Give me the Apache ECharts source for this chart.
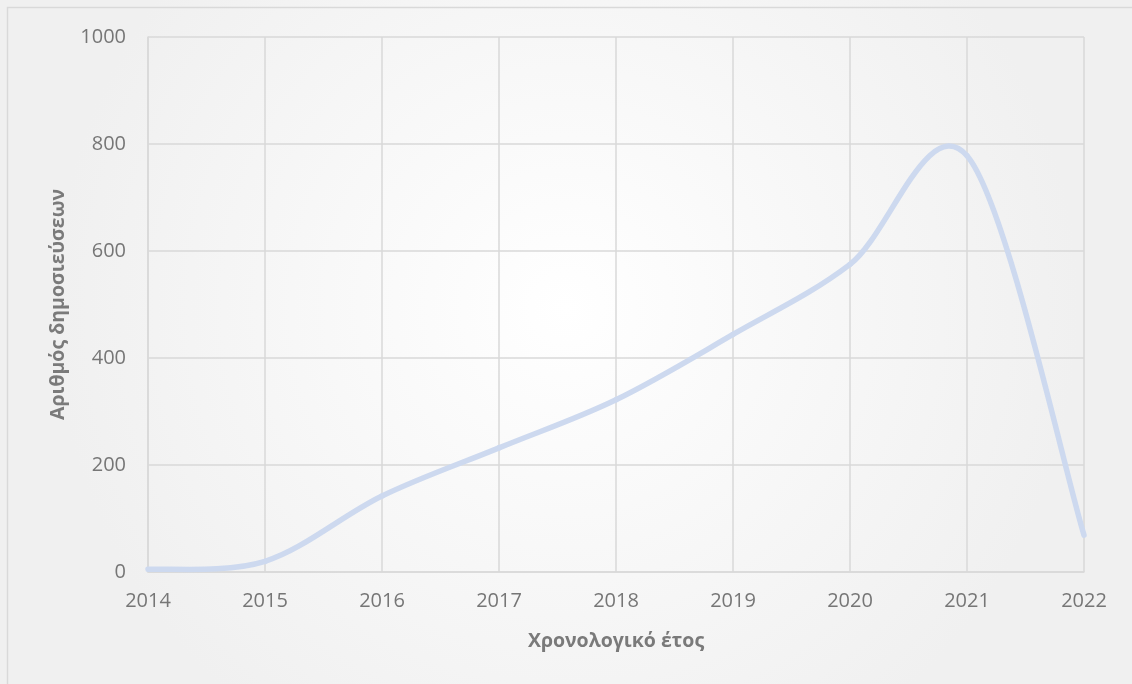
<!DOCTYPE html>
<html>
<head>
<meta charset="utf-8">
<script src="https://cdn.jsdelivr.net/npm/echarts@6/dist/echarts.min.js"></script>
<style>
  html, body { margin: 0; padding: 0; background: #ffffff; }
  #chart { width: 1132px; height: 684px; }
</style>
</head>
<body>
<div id="chart"></div>
<script>
// Publications per year
const years = [2014, 2015, 2016, 2017, 2018, 2019, 2020, 2021, 2022];
const publications = [5, 20, 142, 232, 322, 444, 575, 778, 69];

const xAxisTitle = 'Χρονολογικό έτος';
const yAxisTitle = 'Αριθμός δημοσιεύσεων';

const chart = echarts.init(document.getElementById('chart'), null, { renderer: 'canvas' });

const fontFamily = '"Open Sans", "Noto Sans", sans-serif';
const lineColor = '#cdd9ef';

// One bezier segment per pair of neighbouring years, with Catmull-Rom style
// control points (tension 1/6) taken from the points on either side.
function renderSegment(params, api) {
  const i = params.dataIndex;
  const n = years.length;
  if (i >= n - 1) return null;
  const pt = k => api.coord([years[Math.max(0, Math.min(n - 1, k))],
                             publications[Math.max(0, Math.min(n - 1, k))]]);
  const p0 = pt(i - 1), p1 = pt(i), p2 = pt(i + 1), p3 = pt(i + 2);
  return {
    type: 'bezierCurve',
    shape: {
      x1: p1[0], y1: p1[1],
      cpx1: p1[0] + (p2[0] - p0[0]) / 6, cpy1: p1[1] + (p2[1] - p0[1]) / 6,
      cpx2: p2[0] - (p3[0] - p1[0]) / 6, cpy2: p2[1] - (p3[1] - p1[1]) / 6,
      x2: p2[0], y2: p2[1]
    },
    style: { fill: 'none', stroke: lineColor, lineWidth: 5.5, lineCap: 'round' },
    silent: true
  };
}

chart.setOption({
  backgroundColor: {
    type: 'radial', x: 0.5, y: 0.45, r: 0.75,
    colorStops: [
      { offset: 0, color: '#ffffff' },
      { offset: 1, color: '#f0f0f0' }
    ]
  },
  animation: false,
  graphic: [{
    type: 'rect',
    shape: { x: 7.5, y: 7.5, width: 1140, height: 700 },
    style: { fill: 'none', stroke: '#d9d9d9', lineWidth: 1.5 },
    silent: true
  }],
  grid: { left: 148, right: 48, top: 37, bottom: 112, containLabel: false },
  xAxis: {
    type: 'value',
    min: 2014, max: 2022, interval: 1,
    name: xAxisTitle,
    nameLocation: 'middle',
    nameGap: 59,
    nameTextStyle: { fontFamily, fontSize: 19.5, fontWeight: 'bold', color: '#7a7a7a' },
    axisLine: { show: true, lineStyle: { color: '#d9d9d9', width: 1.5 } },
    axisTick: { show: false },
    axisLabel: {
      fontFamily, fontSize: 20, color: '#767676', margin: 19,
      formatter: v => String(v)
    },
    splitLine: { show: true, lineStyle: { color: '#d9d9d9', width: 1.5 } }
  },
  yAxis: {
    type: 'value',
    min: 0, max: 1000, interval: 200,
    name: yAxisTitle,
    nameLocation: 'middle',
    nameGap: 80,
    nameRotate: 90,
    nameTextStyle: { fontFamily, fontSize: 19.5, fontWeight: 'bold', color: '#7a7a7a' },
    axisLine: { show: true, lineStyle: { color: '#d9d9d9', width: 1.5 } },
    axisTick: { show: false },
    axisLabel: {
      fontFamily, fontSize: 20, color: '#767676', margin: 22,
      formatter: v => String(v)
    },
    splitLine: { show: true, lineStyle: { color: '#d9d9d9', width: 1.5 } }
  },
  series: [{
    type: 'custom',
    data: years.map((y, i) => [y, publications[i]]),
    encode: { x: 0, y: 1 },
    renderItem: renderSegment,
    clip: false,
    z: 3
  }]
});
</script>
</body>
</html>
